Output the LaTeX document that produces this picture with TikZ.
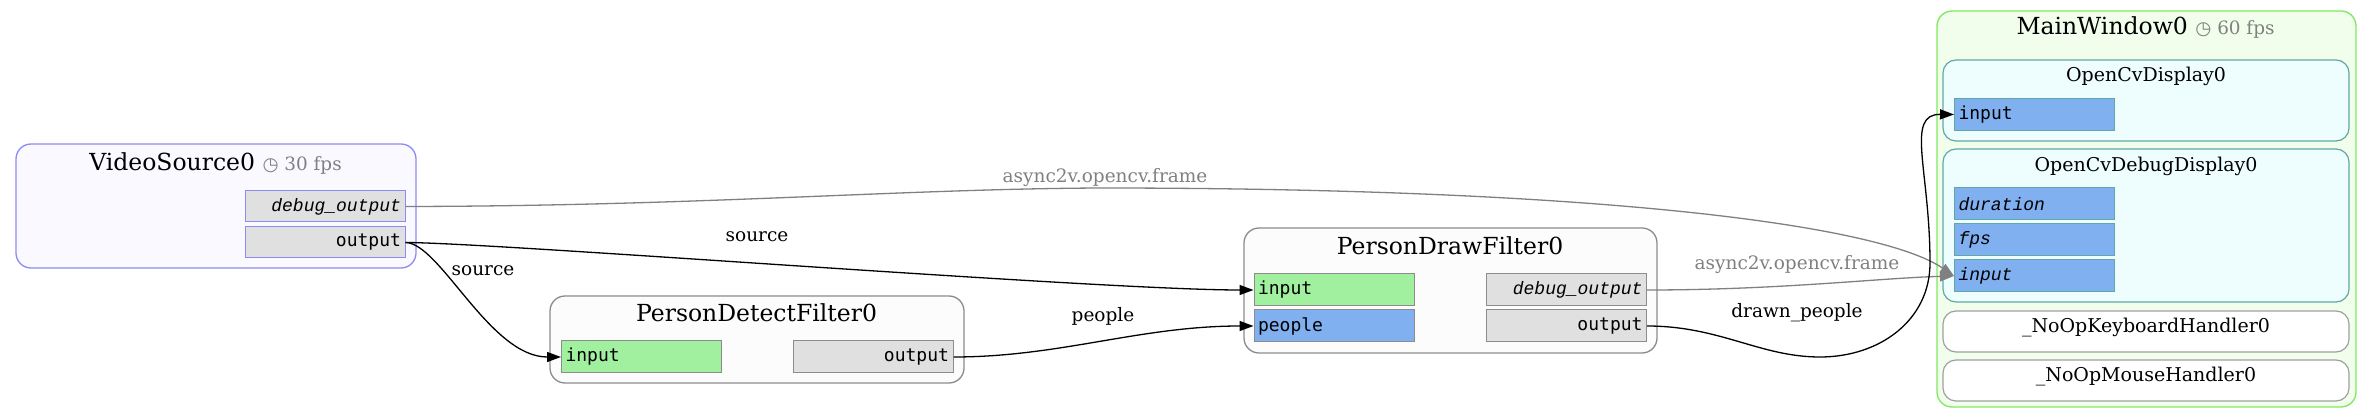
\documentclass[tikz,border=0pt]{standalone}
\usepackage{fontspec}
\usepackage{xcolor}
\setmainfont{DejaVu Serif}
\newfontfamily\portfont{DejaVu Sans Mono}
\newfontfamily\portitfont{Liberation Mono}
\newfontfamily\clockfont{DejaVu Sans}
\usetikzlibrary{arrows.meta}
\definecolor{vsline}{RGB}{140,140,240}
\definecolor{vsfill}{RGB}{249,249,255}
\definecolor{filtline}{RGB}{140,140,140}
\definecolor{filtfill}{RGB}{252,252,252}
\definecolor{portgray}{RGB}{224,224,224}
\definecolor{portgreen}{RGB}{160,240,160}
\definecolor{portblue}{RGB}{128,176,240}
\definecolor{winline}{RGB}{128,232,96}
\definecolor{winfill}{RGB}{240,254,235}
\definecolor{displine}{RGB}{96,168,168}
\definecolor{dispfill}{RGB}{238,254,254}
\definecolor{handline}{RGB}{160,160,160}
\definecolor{edgegray}{RGB}{128,128,128}
\tikzstyle{cluster}=[rectangle, rounded corners=15pt, line width=1.3pt, inner sep=0pt]
\tikzstyle{box}=[cluster, rounded corners=13pt, line width=1.2pt]
\tikzstyle{port}=[rectangle, draw, line width=1pt, minimum height=32pt, inner xsep=4pt, inner ysep=0pt, text width=152pt, font=\portfont\fontsize{18}{20}\selectfont]
\tikzstyle{inport}=[port, align=left]
\tikzstyle{outport}=[port, align=right, fill=portgray]
\tikzstyle{dbgport}=[outport, font=\portitfont\itshape\fontsize{18}{20}\selectfont]
\tikzstyle{dbginport}=[inport, font=\portitfont\itshape\fontsize{18}{20}\selectfont]
\tikzstyle{title}=[anchor=base, inner sep=0pt, font=\fontsize{23.5}{28}\selectfont]
\tikzstyle{subtitle}=[anchor=base, inner sep=0pt, font=\fontsize{19}{22}\selectfont]
\tikzstyle{elabel}=[anchor=base, inner sep=0pt, font=\fontsize{18.5}{22}\selectfont]
\tikzstyle{graylabel}=[elabel, text=edgegray]
\tikzstyle{flow}=[draw, line width=1.3pt, -{Triangle[length=14pt,width=10pt]}, black]
\tikzstyle{grayflow}=[flow, edgegray]
\newcommand{\fpstag}[1]{{\color{edgegray}\fontsize{18.4}{22}\selectfont{\clockfont ◷} #1 fps}}

\begin{document}
\begin{tikzpicture}[x=1pt, y=-1pt]
\useasboundingbox (0,0) rectangle (2372,419);

				% clusters
				\node[cluster, draw=vsline, fill=vsfill, minimum width=400pt, minimum height=124pt] (vs) at (216,206) {};
				\node[cluster, draw=filtline, fill=filtfill, minimum width=414pt, minimum height=87pt] (pd) at (757,339.5) {};
				\node[cluster, draw=filtline, fill=filtfill, minimum width=413pt, minimum height=125pt] (pdr) at (1450.5,290.5) {};
				\node[cluster, draw=winline, fill=winfill, minimum width=419pt, minimum height=396pt] (mw) at (2146.5,209) {};
				\node[box, draw=displine, fill=dispfill, minimum width=406pt, minimum height=81pt] (ocs) at (2146,100.5) {};
				\node[box, draw=displine, fill=dispfill, minimum width=406pt, minimum height=153pt] (ocd) at (2146,225.5) {};
				\node[box, draw=handline, fill=white, minimum width=406pt, minimum height=41pt] (kbd) at (2146,331.5) {};
				\node[box, draw=handline, fill=white, minimum width=406pt, minimum height=41pt] (mouse) at (2146,380.5) {};

				\node[title] (vs_title) at (215.5,171) {VideoSource0 \fpstag{30}};
				\node[title] (pd_title) at (756.5,322) {PersonDetectFilter0};
				\node[title] (pdr_title) at (1450,255) {PersonDrawFilter0};
				\node[title] (mw_title) at (2145.5,35) {MainWindow0 \fpstag{60}};
				\node[subtitle] (ocs_title) at (2146,82) {OpenCvDisplay0};
				\node[subtitle] (ocd_title) at (2146,172) {OpenCvDebugDisplay0};
				\node[subtitle] (kbd_title) at (2146,333) {\_NoOpKeyboardHandler0};
				\node[subtitle] (mouse_title) at (2146,382) {\_NoOpMouseHandler0};

				% ports
				\node[dbgport, draw=vsline, minimum height=31pt] (vs_dbg) at (325,206.5) {debug\_output};
				\node[outport, draw=vsline, minimum height=31pt] (vs_out) at (325,242.5) {output};

				\node[inport, draw=filtline, fill=portgreen] (pd_in) at (641.5,357) {input};
				\node[outport, draw=filtline] (pd_out) at (873,357) {output};

				\node[inport, draw=filtline, fill=portgreen] (pdr_in) at (1334,290) {input};
				\node[inport, draw=filtline, fill=portblue] (pdr_people) at (1334,326) {people};
				\node[dbgport, draw=filtline] (pdr_dbg) at (1566.5,290) {debug\_output};
				\node[outport, draw=filtline] (pdr_out) at (1566.5,326) {output};

				\node[inport, draw=displine, fill=portblue] (ocs_in) at (2034.5,114.5) {input};
				\node[dbginport, draw=displine, fill=portblue] (ocd_dur) at (2034.5,204) {duration};
				\node[dbginport, draw=displine, fill=portblue] (ocd_fps) at (2034.5,240) {fps};
				\node[dbginport, draw=displine, fill=portblue] (ocd_in) at (2034.5,276) {input};

				% connections
				\draw[grayflow] (vs_dbg.east) .. controls (700,206) and (900,189) .. (1100,188) .. controls (1600,188) and (1880,225) .. (ocd_in.west);
				\draw[grayflow] (pdr_dbg.east) .. controls (1780,290) and (1880,278) .. (ocd_in.west);
				\draw[flow] (vs_out.east) .. controls (500,243) and (1100,290) .. (pdr_in.west);
				\draw[flow] (vs_out.east) .. controls (440,243) and (490,357) .. (pd_in.west);
				\draw[flow] (pd_out.east) .. controls (1060,357) and (1140,326) .. (pdr_people.west);
				\draw[flow] (pdr_out.east) .. controls (1720,326) and (1760,357) .. (1820,357) .. controls (1880,357) and (1930,320) .. (1930,263) .. controls (1930,170) and (1905,114) .. (ocs_in.west);

				\node[graylabel] (l_frame1) at (1105,183) {async2v.opencv.frame};
				\node[graylabel] (l_frame2) at (1797,270) {async2v.opencv.frame};
				\node[elabel] (l_source1) at (757,242) {source};
				\node[elabel] (l_source2) at (483,276) {source};
				\node[elabel] (l_people) at (1103,322) {people};
				\node[elabel] (l_drawn) at (1797,318) {drawn\_people};
\end{tikzpicture}
\end{document}
